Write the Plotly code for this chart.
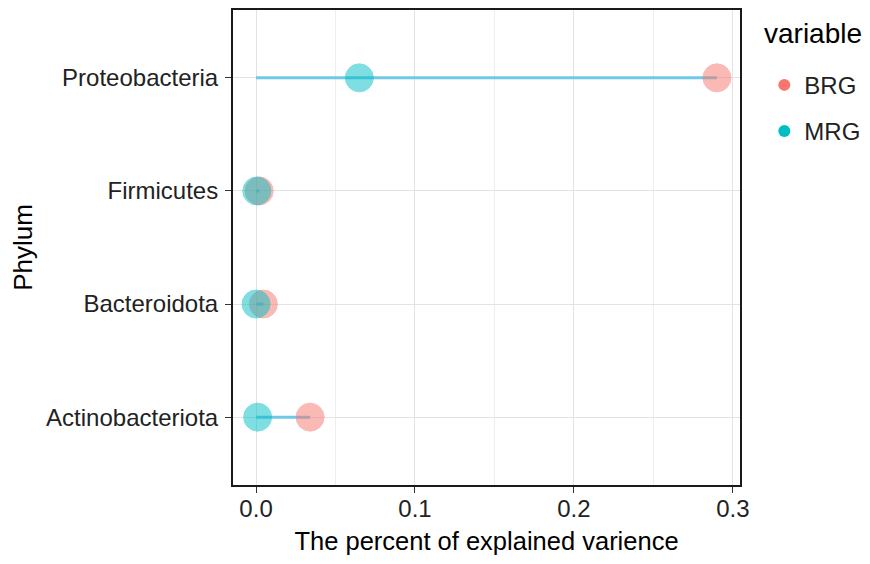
import plotly.graph_objects as go

phylum = ["Actinobacteriota", "Bacteroidota", "Firmicutes", "Proteobacteria"]
brg = [0.034, 0.0046, 0.002, 0.29]
mrg = [0.001, 0.0, 0.0005, 0.065]
x_ticks = [0.0, 0.1, 0.2, 0.3]
x_tick_text = ["0.0", "0.1", "0.2", "0.3"]

BRG_COL = "#F8766D"
MRG_COL = "#00BFC4"
SEG_COL = "#6FC8E8"
FONT = "Liberation Sans, Arial, sans-serif"

fig = go.Figure()

# segments from 0 to BRG value
seg_x, seg_y = [], []
for p, b in zip(phylum, brg):
    seg_x += [0, b, None]
    seg_y += [p, p, None]
fig.add_trace(go.Scatter(x=seg_x, y=seg_y, mode="lines",
                         line=dict(color=SEG_COL, width=3),
                         showlegend=False, hoverinfo="skip"))

fig.add_trace(go.Scatter(x=brg, y=phylum, mode="markers", name="BRG",
                         marker=dict(color=BRG_COL, size=28, opacity=0.5,
                                     line=dict(color=BRG_COL, width=1)),
                         showlegend=False))
fig.add_trace(go.Scatter(x=mrg, y=phylum, mode="markers", name="MRG",
                         marker=dict(color=MRG_COL, size=28, opacity=0.5,
                                     line=dict(color=MRG_COL, width=1)),
                         showlegend=False))

# legend entries
fig.add_trace(go.Scatter(x=[None], y=[None], mode="markers", name="BRG",
                         marker=dict(color=BRG_COL, size=12), legendgroup="a"))
fig.add_trace(go.Scatter(x=[None], y=[None], mode="markers", name="MRG",
                         marker=dict(color=MRG_COL, size=12), legendgroup="b"))

PLOT_H = 564 - 0 - 87

fig.update_layout(
    width=870, height=564,
    margin=dict(l=225, r=138, t=0, b=87),
    plot_bgcolor="white", paper_bgcolor="white",
    font=dict(family=FONT, size=24, color="#222222"),
    legend=dict(x=1.048, y=1 - 53 / PLOT_H, xanchor="left", yanchor="top",
                font=dict(size=24, color="#222222"), tracegroupgap=12,
                itemsizing="constant"),
    annotations=[dict(text="variable", xref="paper", yref="paper",
                      x=(754 - 225) / 507, y=1 - 24 / PLOT_H,
                      xanchor="left", yanchor="middle", showarrow=False,
                      font=dict(size=28, color="black"))],
    xaxis=dict(range=[-0.0145, 0.3045], tickvals=x_ticks, ticktext=x_tick_text,
               showgrid=True, gridcolor="#E3E3E3", gridwidth=1,
               minor=dict(tickvals=[0.05, 0.15, 0.25], showgrid=True,
                          gridcolor="#EEEEEE", gridwidth=1),
               zeroline=False, showline=True, mirror=True,
               linecolor="#1a1a1a", linewidth=2,
               ticks="outside", ticklen=6, tickcolor="#333333", tickwidth=1,
               ticklabelstandoff=-5,
               tickfont=dict(size=24, color="#222222"),
               title=dict(text="The percent of explained varience",
                          font=dict(size=25.5, color="black"), standoff=11)),
    yaxis=dict(type="category", categoryorder="array", categoryarray=phylum,
               range=[-0.6, 3.6],
               showgrid=True, gridcolor="#E3E3E3", gridwidth=1,
               zeroline=False, showline=True, mirror=True,
               linecolor="#1a1a1a", linewidth=2,
               ticks="outside", ticklen=6, tickcolor="#333333", tickwidth=1,
               ticklabelstandoff=2,
               tickfont=dict(size=24, color="#222222"),
               title=dict(text="Phylum", font=dict(size=26, color="black"),
                          standoff=8)),
)

fig.write_html("out.html")
